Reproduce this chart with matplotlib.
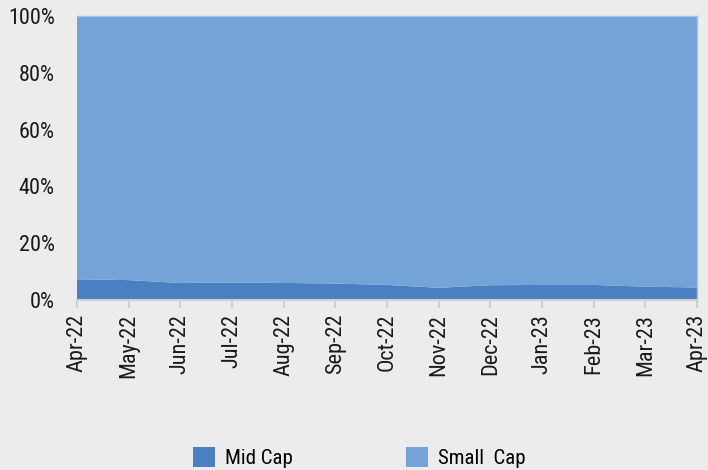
import numpy as np
import matplotlib.pyplot as plt
from matplotlib.patches import Patch
from matplotlib.ticker import FuncFormatter

months = ["Apr-22", "May-22", "Jun-22", "Jul-22", "Aug-22", "Sep-22", "Oct-22",
          "Nov-22", "Dec-22", "Jan-23", "Feb-23", "Mar-23", "Apr-23"]
mid_cap = [7.3, 7.0, 6.0, 6.1, 6.0, 5.8, 5.3, 4.3, 5.2, 5.3, 5.3, 4.7, 4.4]
small_cap = [100 - v for v in mid_cap]

# narrow face; falls back to DejaVu Sans Condensed
plt.rcParams["font.family"] = ["Roboto Condensed", "DejaVu Sans"]
plt.rcParams["font.stretch"] = "condensed"

bg = "#ebeceb"
c_mid = "#4a7fc1"
c_small = "#73a3d7"

fig = plt.figure(figsize=(7.08, 4.70), dpi=100, facecolor=bg)
ax = fig.add_axes([0.1088, 0.3617, 0.8757, 0.6043])
ax.set_facecolor(bg)

x = np.arange(len(months))
ax.stackplot(x, mid_cap, small_cap, colors=[c_mid, c_small], linewidth=0)

ax.set_xlim(0, len(months) - 1)
ax.set_ylim(0, 100)
ax.set_yticks(range(0, 101, 20))
ax.yaxis.set_major_formatter(FuncFormatter(lambda v, p: f"{v:.0f}%"))
ax.set_xticks(x)
ax.set_xticklabels(months, rotation=90)

ax.tick_params(axis="y", length=0, labelsize=16, pad=16, labelcolor="#1a1a1a")
ax.tick_params(axis="x", length=6, width=1.5, color="#d0d0d0", labelsize=16,
               pad=4, labelcolor="#1a1a1a")
ax.spines["left"].set_visible(False)
for s in ["top", "right"]:
    ax.spines[s].set_color("#a3c2e6")
    ax.spines[s].set_linewidth(1.0)
ax.spines["bottom"].set_color("#d0d0d0")
ax.spines["bottom"].set_linewidth(1.5)

labels = ["Mid Cap", "Small  Cap"]
colors = [c_mid, c_small]
lx = [193 / 708, 406 / 708]
for lab, col, x0 in zip(labels, colors, lx):
    fig.legend(handles=[Patch(facecolor=col, label=lab)], loc="lower left",
               bbox_to_anchor=(x0, 2 / 470), frameon=False, fontsize=15,
               handlelength=1.05, handleheight=1.05, handletextpad=0.5,
               borderpad=0, borderaxespad=0)

fig.savefig("out.png", dpi=100, facecolor=bg)
